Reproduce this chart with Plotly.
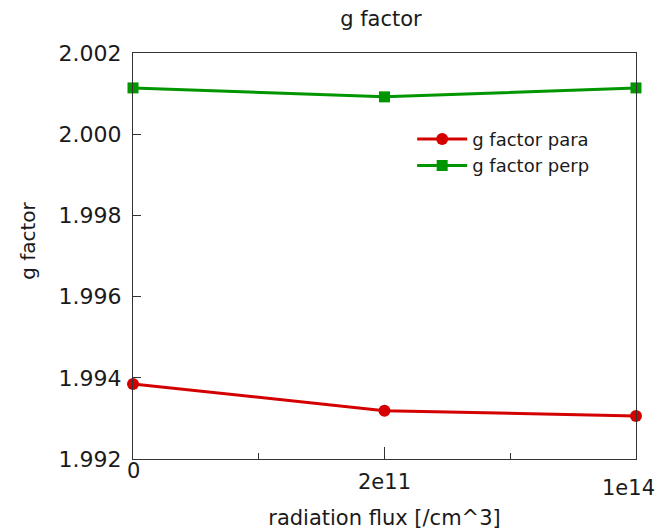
import plotly.graph_objects as go

categories = ["0", "2e11", "1e14"]
x_pos = [0, 1, 2]
g_para = [1.99385, 1.99319, 1.99306]
g_perp = [2.00114, 2.00092, 2.00114]
y_ticks = [1.992, 1.994, 1.996, 1.998, 2.000, 2.002]
# small quirky offsets of the x tick labels in the original picture
label_yshift = [2, -9, -15]
label_xshift = [0, 0, -8]

FONT = "DejaVu Sans, Liberation Sans, Arial, sans-serif"
RED = "#d40000"
GREEN = "#009600"
AX = "#333333"

fig = go.Figure()
fig.add_trace(go.Scatter(
    x=x_pos, y=g_para, mode="lines+markers", name="g factor para",
    line=dict(color=RED, width=3), marker=dict(symbol="circle", size=12, color=RED),
    cliponaxis=False))
fig.add_trace(go.Scatter(
    x=x_pos, y=g_perp, mode="lines+markers", name="g factor perp",
    line=dict(color=GREEN, width=3), marker=dict(symbol="square", size=11, color=GREEN),
    cliponaxis=False))

for xv, lab, dy, dx in zip(x_pos, categories, label_yshift, label_xshift):
    fig.add_annotation(x=xv, y=0, xref="x", yref="paper", text=lab, showarrow=False,
                       xanchor="center", yanchor="top", yshift=dy, xshift=dx,
                       font=dict(size=21, family=FONT, color="#1a1a1a"))

# y axis title placed as in the original (slightly above the plot centre)
fig.add_annotation(x=-0.209, y=0.537, xref="paper", yref="paper", text="g factor",
                   textangle=-90, showarrow=False, xanchor="center", yanchor="middle",
                   font=dict(size=20, family=FONT, color="#1a1a1a"))

fig.update_layout(
    width=658, height=531,
    margin=dict(l=133, r=22, t=53, b=72, autoexpand=False),
    paper_bgcolor="white", plot_bgcolor="white",
    font=dict(family=FONT, color="#1a1a1a"),
    title=dict(text="g factor", x=0.579, xanchor="center", y=0.965, yanchor="middle",
               font=dict(size=21, family=FONT)),
    showlegend=True,
    legend=dict(x=0.555, y=0.833, xanchor="left", yanchor="top",
                bgcolor="rgba(0,0,0,0)", font=dict(size=18, family=FONT),
                tracegroupgap=0, itemwidth=50),
)
fig.update_xaxes(
    range=[0, 2], tickmode="array", tickvals=x_pos, ticktext=categories,
    showticklabels=False, automargin=False,
    ticks="inside", ticklen=12, tickwidth=1, tickcolor=AX,
    minor=dict(dtick=0.5, tick0=0, ticks="inside", ticklen=6, tickcolor=AX),
    showline=True, linecolor=AX, linewidth=1, mirror=True,
    showgrid=False, zeroline=False,
    title=dict(text="radiation flux [/cm^3]", font=dict(size=21, family=FONT), standoff=51),
)
fig.update_yaxes(
    range=[1.992, 2.002], tickmode="array", tickvals=y_ticks,
    ticktext=[f"{v:.3f}" for v in y_ticks], automargin=False,
    ticks="inside", ticklen=8, tickwidth=1, tickcolor=AX,
    showline=True, linecolor=AX, linewidth=1, mirror=True,
    showgrid=False, zeroline=False, ticklabelstandoff=6,
    tickfont=dict(size=22, family=FONT),
)

fig.write_html("out.html")
